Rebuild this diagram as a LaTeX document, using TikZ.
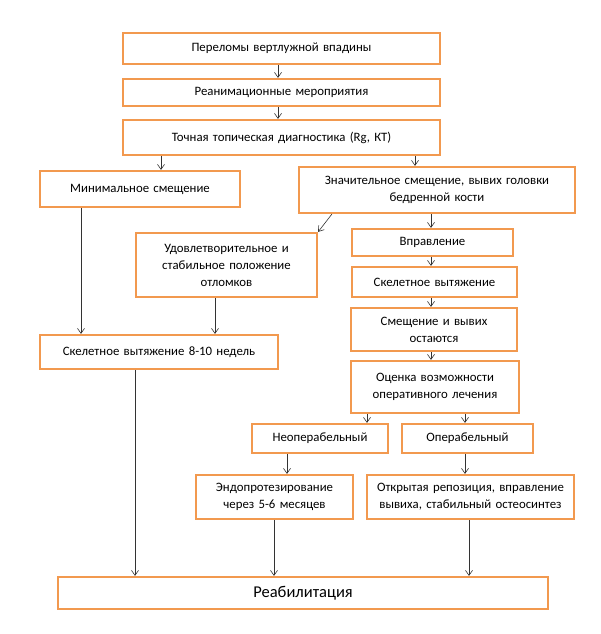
\documentclass[tikz,border=0pt]{standalone}
\usepackage{fontspec}
\setmainfont{Carlito}
\usetikzlibrary{arrows.meta}
\definecolor{boxorange}{HTML}{F2994F}
\definecolor{arrgray}{HTML}{333333}
\tikzset{
  box/.style={draw=boxorange, line width=2.2pt, fill=white, inner sep=1pt, align=center, font=\fontsize{12.8}{17}\selectfont},
  bigbox/.style={box, font=\fontsize{16.5}{18}\selectfont},
  arr/.style={draw=arrgray, line width=0.6pt, -{Straight Barb[length=5pt,width=7pt,line width=0.6pt]}}
}
\newcommand{\mkbox}[7][box]{%
  \pgfmathsetmacro{\cx}{(#3+#5)/2}%
  \pgfmathsetmacro{\cy}{-(#4+#6)/2}%
  \pgfmathsetmacro{\ww}{#5-#3}%
  \pgfmathsetmacro{\hh}{#6-#4}%
  \node[#1, minimum width=\ww pt, minimum height=\hh pt, text width=\ww pt - 6pt] (#2) at (\cx pt,\cy pt) {#7};%
}
\begin{document}
\begin{tikzpicture}[x=1pt,y=1pt]
\useasboundingbox[fill=white] (0,0) rectangle (600,-634);
\mkbox{b1}{123}{33}{440}{64}{Переломы вертлужной впадины}
\mkbox{b2}{123}{79}{440}{106}{Реанимационные мероприятия}
\mkbox{b3}{123}{120}{440}{155}{Точная топическая диагностика (Rg, КТ)}
\mkbox{mn}{40}{171}{240}{207}{Минимальное смещение}
\mkbox{zn}{299}{167}{575}{213}{Значительное смещение, вывих головки\\бедренной кости}
\mkbox{ud}{136}{233}{317}{297}{Удовлетворительное и\\стабильное положение\\отломков}
\mkbox{vp}{352}{229}{513}{256}{Вправление}
\mkbox{sk}{352}{267}{517}{297}{Скелетное вытяжение}
\mkbox{sm}{351}{308}{517}{351}{Смещение и вывих\\остаются}
\mkbox{oc}{351}{361}{519}{413}{Оценка возможности\\оперативного лечения}
\mkbox{sk8}{40}{335}{278}{369}{Скелетное вытяжение 8-10 недель}
\mkbox{ne}{252}{424}{388}{453}{Неоперабельный}
\mkbox{op}{402}{424}{533}{453}{Операбельный}
\mkbox{en}{196}{475}{353}{519}{Эндопротезирование\\через 5-6 месяцев}
\mkbox{ot}{367}{475}{574}{519}{Открытая репозиция, вправление\\вывиха, стабильный остеосинтез}
\mkbox[bigbox]{re}{58}{577}{548}{609}{Реабилитация}
% x guides
\coordinate (x278) at (278,0);
\coordinate (x160) at (161,0);
\coordinate (x415) at (415,0);
\coordinate (x431) at (431,0);
\coordinate (x81) at (81,0);
\coordinate (x215) at (215,0);
\coordinate (x367) at (367,0);
\coordinate (x465) at (465,0);
\coordinate (x287) at (287,0);
\coordinate (x135) at (135,0);
\coordinate (x274) at (274,0);
\coordinate (x469) at (469,0);
\draw[arr] (b1.south -| x278) -- (b2.north -| x278);
\draw[arr] (b2.south -| x278) -- (b3.north -| x278);
\draw[arr] (b3.south -| x160) -- (mn.north -| x160);
\draw[arr] (b3.south -| x415) -- (zn.north -| x415);
\draw[arr] ([xshift=34pt]zn.south west) -- (ud.north east);
\draw[arr] (zn.south -| x431) -- (vp.north -| x431);
\draw[arr] (vp.south -| x431) -- (sk.north -| x431);
\draw[arr] (sk.south -| x431) -- (sm.north -| x431);
\draw[arr] (sm.south -| x431) -- (oc.north -| x431);
\draw[arr] (mn.south -| x81) -- (sk8.north -| x81);
\draw[arr] (ud.south -| x215) -- (sk8.north -| x215);
\draw[arr] (oc.south -| x367) -- (ne.north -| x367);
\draw[arr] (oc.south -| x465) -- (op.north -| x465);
\draw[arr] (ne.south -| x287) -- (en.north -| x287);
\draw[arr] (op.south -| x465) -- (ot.north -| x465);
\draw[arr] (sk8.south -| x135) -- (re.north -| x135);
\draw[arr] (en.south -| x274) -- (re.north -| x274);
\draw[arr] (ot.south -| x469) -- (re.north -| x469);
\end{tikzpicture}
\end{document}
